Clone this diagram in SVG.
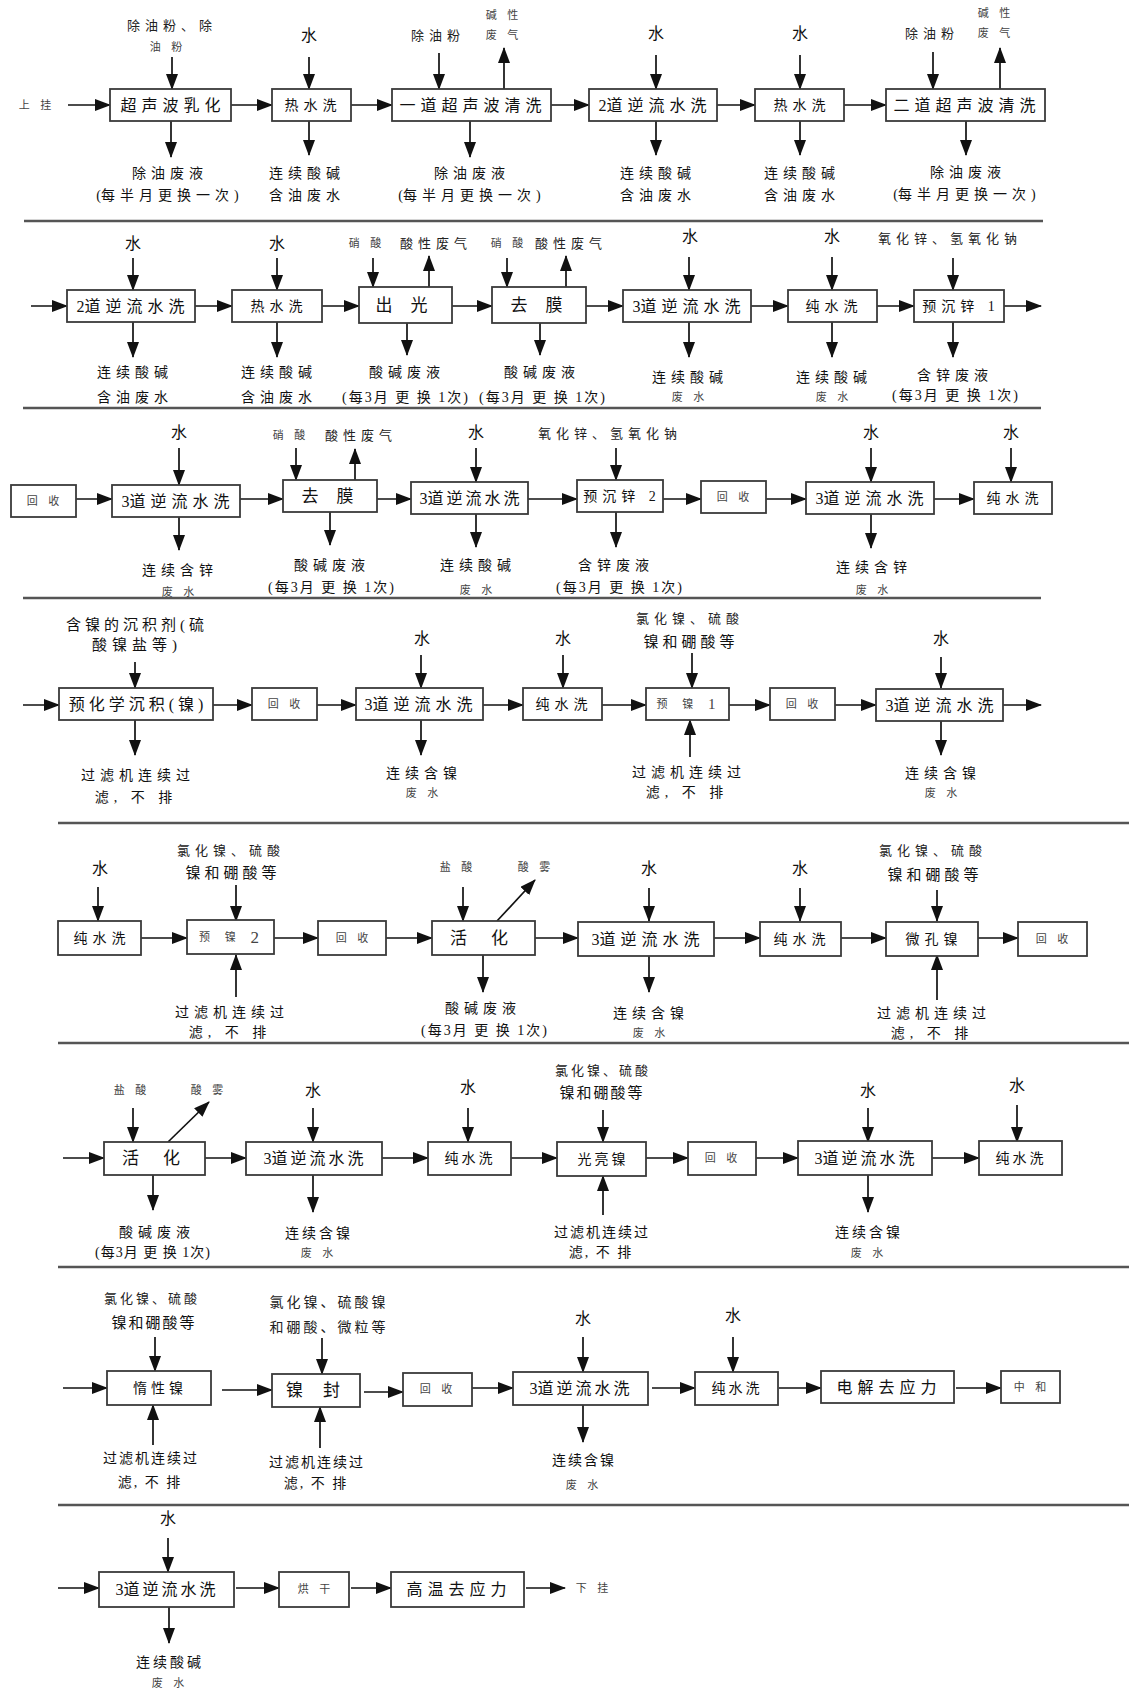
<svg xmlns="http://www.w3.org/2000/svg" width="1129" height="1693" viewBox="0 0 1129 1693">
<style>
text{font-family:"Liberation Serif","Noto Sans CJK SC",serif;fill:#111;text-anchor:middle;dominant-baseline:central}
.b{font-size:16px;letter-spacing:5px}
.m{font-size:14px;letter-spacing:5px}
.l{font-size:14px;letter-spacing:5px}
.t{font-size:13px;letter-spacing:5px;fill:#222}
.s{font-size:11px;letter-spacing:4px;fill:#444}
.w{font-size:16px}
.z{letter-spacing:0}
rect{fill:#fff;stroke:#3a3a3a;stroke-width:1.8}
#conn line{stroke:#111;stroke-width:1.7;marker-end:url(#a)}
#sep line{stroke:#555;stroke-width:2.5}
</style>
<defs>
<marker id="a" markerUnits="userSpaceOnUse" markerWidth="16" markerHeight="12" refX="15" refY="6" orient="auto"><path d="M0,0L16,6L0,12z" fill="#111"/></marker>
</defs>
<rect x="0" y="0" width="1129" height="1693" style="stroke:none;fill:#fff"/>
<g id="sep">
<line x1="24" y1="221" x2="1043" y2="221"/>
<line x1="23" y1="408" x2="1041" y2="408"/>
<line x1="23" y1="598" x2="1041" y2="598"/>
<line x1="58" y1="823" x2="1129" y2="823"/>
<line x1="58" y1="1043" x2="1129" y2="1043"/>
<line x1="58" y1="1267" x2="1129" y2="1267"/>
<line x1="58" y1="1505" x2="1129" y2="1505"/>
</g>
<g id="conn">
<line x1="68" y1="105" x2="110" y2="105"/>
<line x1="231" y1="105" x2="272" y2="105"/>
<line x1="351" y1="105" x2="392" y2="105"/>
<line x1="551" y1="105" x2="589" y2="105"/>
<line x1="717" y1="105" x2="755" y2="105"/>
<line x1="844" y1="105" x2="886" y2="105"/>
<line x1="172" y1="57" x2="172" y2="89"/>
<line x1="309" y1="57" x2="309" y2="89"/>
<line x1="439" y1="53" x2="439" y2="89"/>
<line x1="504" y1="89" x2="504" y2="48"/>
<line x1="656" y1="55" x2="656" y2="89"/>
<line x1="800" y1="55" x2="800" y2="89"/>
<line x1="933" y1="52" x2="933" y2="89"/>
<line x1="1000" y1="89" x2="1000" y2="48"/>
<line x1="171" y1="121" x2="171" y2="157"/>
<line x1="309" y1="121" x2="309" y2="155"/>
<line x1="470" y1="121" x2="470" y2="157"/>
<line x1="656" y1="121" x2="656" y2="155"/>
<line x1="800" y1="121" x2="800" y2="155"/>
<line x1="966" y1="121" x2="966" y2="155"/>
<line x1="31" y1="306" x2="67" y2="306"/>
<line x1="195" y1="306" x2="232" y2="306"/>
<line x1="322" y1="306" x2="359" y2="306"/>
<line x1="452" y1="306" x2="492" y2="306"/>
<line x1="586" y1="306" x2="623" y2="306"/>
<line x1="751" y1="306" x2="788" y2="306"/>
<line x1="877" y1="306" x2="914" y2="306"/>
<line x1="1004" y1="306" x2="1041" y2="306"/>
<line x1="133" y1="258" x2="133" y2="290"/>
<line x1="277" y1="258" x2="277" y2="290"/>
<line x1="373" y1="258" x2="373" y2="287"/>
<line x1="429" y1="287" x2="429" y2="256"/>
<line x1="507" y1="258" x2="507" y2="287"/>
<line x1="566" y1="287" x2="566" y2="256"/>
<line x1="689" y1="257" x2="689" y2="290"/>
<line x1="832" y1="257" x2="832" y2="290"/>
<line x1="953" y1="258" x2="953" y2="290"/>
<line x1="133" y1="322" x2="133" y2="357"/>
<line x1="277" y1="322" x2="277" y2="357"/>
<line x1="407" y1="323" x2="407" y2="355"/>
<line x1="540" y1="323" x2="540" y2="355"/>
<line x1="689" y1="322" x2="689" y2="357"/>
<line x1="832" y1="322" x2="832" y2="357"/>
<line x1="953" y1="322" x2="953" y2="357"/>
<line x1="76" y1="499" x2="112" y2="499"/>
<line x1="240" y1="499" x2="283" y2="499"/>
<line x1="377" y1="499" x2="411" y2="499"/>
<line x1="528" y1="499" x2="577" y2="499"/>
<line x1="663" y1="499" x2="701" y2="499"/>
<line x1="766" y1="499" x2="806" y2="499"/>
<line x1="934" y1="499" x2="974" y2="499"/>
<line x1="179" y1="448" x2="179" y2="485"/>
<line x1="296" y1="448" x2="296" y2="480"/>
<line x1="355" y1="480" x2="355" y2="449"/>
<line x1="476" y1="448" x2="476" y2="482"/>
<line x1="616" y1="448" x2="616" y2="480"/>
<line x1="871" y1="448" x2="871" y2="482"/>
<line x1="1011" y1="448" x2="1011" y2="482"/>
<line x1="179" y1="517" x2="179" y2="550"/>
<line x1="330" y1="512" x2="330" y2="545"/>
<line x1="476" y1="514" x2="476" y2="547"/>
<line x1="616" y1="512" x2="616" y2="547"/>
<line x1="871" y1="514" x2="871" y2="548"/>
<line x1="23" y1="705" x2="59" y2="705"/>
<line x1="213" y1="705" x2="252" y2="705"/>
<line x1="317" y1="705" x2="356" y2="705"/>
<line x1="483" y1="705" x2="523" y2="705"/>
<line x1="602" y1="705" x2="646" y2="705"/>
<line x1="729" y1="705" x2="770" y2="705"/>
<line x1="835" y1="705" x2="876" y2="705"/>
<line x1="1003" y1="705" x2="1041" y2="705"/>
<line x1="135" y1="662" x2="135" y2="688"/>
<line x1="421" y1="655" x2="421" y2="688"/>
<line x1="563" y1="655" x2="563" y2="688"/>
<line x1="692" y1="653" x2="692" y2="688"/>
<line x1="941" y1="657" x2="941" y2="688"/>
<line x1="135" y1="720" x2="135" y2="755"/>
<line x1="421" y1="720" x2="421" y2="755"/>
<line x1="690" y1="757" x2="690" y2="720"/>
<line x1="941" y1="721" x2="941" y2="755"/>
<line x1="141" y1="938" x2="187" y2="938"/>
<line x1="274" y1="938" x2="318" y2="938"/>
<line x1="386" y1="938" x2="432" y2="938"/>
<line x1="535" y1="938" x2="578" y2="938"/>
<line x1="714" y1="938" x2="760" y2="938"/>
<line x1="841" y1="938" x2="886" y2="938"/>
<line x1="978" y1="938" x2="1018" y2="938"/>
<line x1="98" y1="887" x2="98" y2="921"/>
<line x1="236" y1="885" x2="236" y2="921"/>
<line x1="463" y1="887" x2="463" y2="921"/>
<line x1="497" y1="921" x2="535" y2="880"/>
<line x1="649" y1="888" x2="649" y2="921"/>
<line x1="800" y1="888" x2="800" y2="921"/>
<line x1="937" y1="890" x2="937" y2="921"/>
<line x1="236" y1="997" x2="236" y2="955"/>
<line x1="483" y1="955" x2="483" y2="992"/>
<line x1="649" y1="955" x2="649" y2="992"/>
<line x1="937" y1="1000" x2="937" y2="955"/>
<line x1="63" y1="1158" x2="104" y2="1158"/>
<line x1="205" y1="1158" x2="246" y2="1158"/>
<line x1="382" y1="1158" x2="428" y2="1158"/>
<line x1="511" y1="1158" x2="557" y2="1158"/>
<line x1="646" y1="1158" x2="688" y2="1158"/>
<line x1="756" y1="1158" x2="798" y2="1158"/>
<line x1="932" y1="1158" x2="979" y2="1158"/>
<line x1="133" y1="1108" x2="133" y2="1142"/>
<line x1="168" y1="1142" x2="209" y2="1102"/>
<line x1="313" y1="1108" x2="313" y2="1142"/>
<line x1="468" y1="1108" x2="468" y2="1142"/>
<line x1="603" y1="1110" x2="603" y2="1142"/>
<line x1="868" y1="1108" x2="868" y2="1142"/>
<line x1="1017" y1="1105" x2="1017" y2="1142"/>
<line x1="153" y1="1175" x2="153" y2="1210"/>
<line x1="313" y1="1175" x2="313" y2="1212"/>
<line x1="603" y1="1215" x2="603" y2="1176"/>
<line x1="868" y1="1175" x2="868" y2="1212"/>
<line x1="63" y1="1388" x2="107" y2="1388"/>
<line x1="222" y1="1390" x2="272" y2="1390"/>
<line x1="364" y1="1392" x2="403" y2="1392"/>
<line x1="472" y1="1388" x2="513" y2="1388"/>
<line x1="652" y1="1388" x2="695" y2="1388"/>
<line x1="779" y1="1388" x2="821" y2="1388"/>
<line x1="956" y1="1388" x2="1001" y2="1388"/>
<line x1="155" y1="1337" x2="155" y2="1371"/>
<line x1="322" y1="1338" x2="322" y2="1374"/>
<line x1="583" y1="1337" x2="583" y2="1372"/>
<line x1="733" y1="1337" x2="733" y2="1372"/>
<line x1="153" y1="1445" x2="153" y2="1405"/>
<line x1="320" y1="1448" x2="320" y2="1407"/>
<line x1="583" y1="1405" x2="583" y2="1442"/>
<line x1="58" y1="1588" x2="99" y2="1588"/>
<line x1="236" y1="1588" x2="279" y2="1588"/>
<line x1="351" y1="1588" x2="391" y2="1588"/>
<line x1="526" y1="1588" x2="565" y2="1588"/>
<line x1="168" y1="1538" x2="168" y2="1572"/>
<line x1="169" y1="1607" x2="169" y2="1643"/>
</g>

<text class="s" x="37" y="105">上 挂</text>
<g id="r1n1"><rect x="110" y="89" width="121" height="32"/><text class="b" x="173" y="105">超声波乳化</text>
<text class="t" x="172" y="25">除油粉、除</text><text class="s" x="168" y="47">油 粉</text>
<text class="l" x="170" y="173">除油废液</text><text class="l" x="170" y="195"><tspan class="z">(</tspan>每半月更换一次)</text></g>
<g id="r1n2"><rect x="272" y="89" width="79" height="32"/><text class="m" x="313" y="105">热水洗</text>
<text class="w" x="309" y="35">水</text>
<text class="l" x="307" y="173">连续酸碱</text><text class="l" x="307" y="195">含油废水</text></g>
<g id="r1n3"><rect x="392" y="89" width="159" height="32"/><text class="b" x="473" y="105">一道超声波清洗</text>
<text class="t" x="438" y="35">除油粉</text><text class="s" x="504" y="15">碱 性</text><text class="s" x="504" y="35">废 气</text>
<text class="l" x="472" y="173">除油废液</text><text class="l" x="472" y="195"><tspan class="z">(</tspan>每半月更换一次)</text></g>
<g id="r1n4"><rect x="589" y="89" width="128" height="32"/><text class="b" x="655" y="105"><tspan class="z">2</tspan>道逆流水洗</text>
<text class="w" x="656" y="33">水</text>
<text class="l" x="658" y="173">连续酸碱</text><text class="l" x="658" y="195">含油废水</text></g>
<g id="r1n5"><rect x="755" y="89" width="89" height="32"/><text class="m" x="802" y="105">热水洗</text>
<text class="w" x="800" y="33">水</text>
<text class="l" x="802" y="173">连续酸碱</text><text class="l" x="802" y="195">含油废水</text></g>
<g id="r1n6"><rect x="886" y="89" width="159" height="32"/><text class="b" x="967" y="105">二道超声波清洗</text>
<text class="t" x="932" y="33">除油粉</text><text class="s" x="996" y="13">碱 性</text><text class="s" x="996" y="33">废 气</text>
<text class="l" x="968" y="172">除油废液</text><text class="l" x="967" y="194"><tspan class="z">(</tspan>每半月更换一次)</text></g>

<g id="r2n1"><rect x="67" y="290" width="128" height="32"/><text class="b" x="133" y="306"><tspan class="z">2</tspan>道逆流水洗</text>
<text class="w" x="133" y="243">水</text>
<text class="l" x="135" y="372">连续酸碱</text><text class="l" x="135" y="397">含油废水</text></g>
<g id="r2n2"><rect x="232" y="290" width="90" height="32"/><text class="m" x="279" y="306">热水洗</text>
<text class="w" x="277" y="243">水</text>
<text class="l" x="279" y="372">连续酸碱</text><text class="l" x="279" y="397">含油废水</text></g>
<g id="r2n3"><rect x="359" y="287" width="93" height="36"/><text class="b" x="405" y="305" style="font-size:17px;letter-spacing:7px">出 光</text>
<text class="s" x="367" y="243">硝 酸</text><text class="t" x="436" y="243">酸性废气</text>
<text class="l" x="407" y="372">酸碱废液</text><text class="l" x="406" y="397" style="letter-spacing:2px">(每3月 更 换 1次)</text></g>
<g id="r2n4"><rect x="492" y="287" width="94" height="36"/><text class="b" x="540" y="305" style="font-size:17px;letter-spacing:7px">去 膜</text>
<text class="s" x="509" y="243">硝 酸</text><text class="t" x="571" y="243">酸性废气</text>
<text class="l" x="542" y="372">酸碱废液</text><text class="l" x="543" y="397" style="letter-spacing:2px">(每3月 更 换 1次)</text></g>
<g id="r2n5"><rect x="623" y="290" width="128" height="32"/><text class="b" x="689" y="306"><tspan class="z">3</tspan>道逆流水洗</text>
<text class="w" x="690" y="236">水</text>
<text class="l" x="690" y="377">连续酸碱</text><text class="s" x="690" y="397">废 水</text></g>
<g id="r2n6"><rect x="788" y="290" width="89" height="32"/><text class="m" x="834" y="306">纯水洗</text>
<text class="w" x="832" y="236">水</text>
<text class="l" x="834" y="377">连续酸碱</text><text class="s" x="834" y="397">废 水</text></g>
<g id="r2n7"><rect x="914" y="290" width="90" height="32"/><text class="m" x="961" y="306">预沉锌 1</text>
<text class="t" x="950" y="238">氧化锌、氢氧化钠</text>
<text class="l" x="955" y="375">含锌废液</text><text class="l" x="956" y="395" style="letter-spacing:2px">(每3月 更 换 1次)</text></g>

<g id="r3n1"><rect x="11" y="485" width="65" height="32"/><text class="s" x="45" y="501">回 收</text></g>
<g id="r3n2"><rect x="112" y="485" width="128" height="32"/><text class="b" x="178" y="501"><tspan class="z">3</tspan>道逆流水洗</text>
<text class="w" x="179" y="432">水</text>
<text class="l" x="180" y="570">连续含锌</text><text class="s" x="180" y="592">废 水</text></g>
<g id="r3n3"><rect x="283" y="480" width="94" height="32"/><text class="b" x="331" y="496" style="font-size:17px;letter-spacing:7px">去 膜</text>
<text class="s" x="291" y="435">硝 酸</text><text class="t" x="361" y="435">酸性废气</text>
<text class="l" x="332" y="565">酸碱废液</text><text class="l" x="332" y="587" style="letter-spacing:2px">(每3月 更 换 1次)</text></g>
<g id="r3n4"><rect x="411" y="482" width="117" height="32"/><text class="b" x="471" y="498" style="letter-spacing:3px"><tspan class="z">3</tspan>道逆流水洗</text>
<text class="w" x="476" y="432">水</text>
<text class="l" x="478" y="565">连续酸碱</text><text class="s" x="478" y="590">废 水</text></g>
<g id="r3n5"><rect x="577" y="480" width="86" height="32"/><text class="m" x="622" y="496">预沉锌 2</text>
<text class="t" x="610" y="433">氧化锌、氢氧化钠</text>
<text class="l" x="616" y="565">含锌废液</text><text class="l" x="620" y="587" style="letter-spacing:2px">(每3月 更 换 1次)</text></g>
<g id="r3n6"><rect x="701" y="481" width="65" height="32"/><text class="s" x="735" y="497">回 收</text></g>
<g id="r3n7"><rect x="806" y="482" width="128" height="32"/><text class="b" x="872" y="498"><tspan class="z">3</tspan>道逆流水洗</text>
<text class="w" x="871" y="432">水</text>
<text class="l" x="874" y="567">连续含锌</text><text class="s" x="874" y="590">废 水</text></g>
<g id="r3n8"><rect x="974" y="482" width="78" height="32"/><text class="m" x="1015" y="498">纯水洗</text>
<text class="w" x="1011" y="432">水</text></g>

<g id="r4n1"><rect x="59" y="688" width="154" height="32"/><text class="b" x="138" y="704" style="letter-spacing:4px">预化学沉积(镍)</text>
<text class="l" x="137" y="625" style="font-size:15px;letter-spacing:4px">含镍的沉积剂(硫</text><text class="l" x="137" y="645" style="font-size:15px">酸镍盐等)</text>
<text class="l" x="138" y="775">过滤机连续过</text><text class="l" x="136" y="797">滤, 不 排</text></g>
<g id="r4n2"><rect x="252" y="688" width="65" height="32"/><text class="s" x="286" y="704">回 收</text></g>
<g id="r4n3"><rect x="356" y="688" width="127" height="32"/><text class="b" x="421" y="704"><tspan class="z">3</tspan>道逆流水洗</text>
<text class="w" x="422" y="638">水</text>
<text class="l" x="424" y="773">连续含镍</text><text class="s" x="424" y="793">废 水</text></g>
<g id="r4n4"><rect x="523" y="688" width="79" height="32"/><text class="m" x="564" y="704">纯水洗</text>
<text class="w" x="563" y="638">水</text></g>
<g id="r4n5"><rect x="646" y="688" width="83" height="32"/><text class="s" x="689" y="704" style="letter-spacing:6px">预 镍 <tspan style="font-size:15px">1</tspan></text>
<text class="t" x="690" y="618">氯化镍、硫酸</text><text class="b" x="691" y="642" style="font-size:15px;letter-spacing:4px">镍和硼酸等</text>
<text class="l" x="689" y="772">过滤机连续过</text><text class="l" x="687" y="792">滤, 不 排</text></g>
<g id="r4n6"><rect x="770" y="688" width="65" height="32"/><text class="s" x="804" y="704">回 收</text></g>
<g id="r4n7"><rect x="876" y="689" width="127" height="32"/><text class="b" x="942" y="705"><tspan class="z">3</tspan>道逆流水洗</text>
<text class="w" x="941" y="638">水</text>
<text class="l" x="943" y="773">连续含镍</text><text class="s" x="943" y="793">废 水</text></g>

<g id="r5n1"><rect x="58" y="921" width="83" height="34"/><text class="m" x="102" y="938">纯水洗</text>
<text class="w" x="100" y="868">水</text></g>
<g id="r5n2"><rect x="187" y="920" width="87" height="34"/><text class="s" x="232" y="937" style="letter-spacing:6px">预 镍 <tspan style="font-size:17px">2</tspan></text>
<text class="t" x="231" y="850">氯化镍、硫酸</text><text class="b" x="233" y="873" style="font-size:15px;letter-spacing:4px">镍和硼酸等</text>
<text class="l" x="232" y="1012">过滤机连续过</text><text class="l" x="230" y="1032">滤, 不 排</text></g>
<g id="r5n3"><rect x="318" y="921" width="68" height="34"/><text class="s" x="354" y="938">回 收</text></g>
<g id="r5n4"><rect x="432" y="921" width="103" height="34"/><text class="b" x="484" y="938" style="font-size:17px;letter-spacing:10px">活 化</text>
<text class="s" x="458" y="867">盐 酸</text><text class="s" x="536" y="867">酸 雾</text>
<text class="l" x="483" y="1008">酸碱废液</text><text class="l" x="485" y="1030" style="letter-spacing:2px">(每3月 更 换 1次)</text></g>
<g id="r5n5"><rect x="578" y="922" width="136" height="34"/><text class="b" x="648" y="939"><tspan class="z">3</tspan>道逆流水洗</text>
<text class="w" x="649" y="868">水</text>
<text class="l" x="651" y="1013">连续含镍</text><text class="s" x="651" y="1033">废 水</text></g>
<g id="r5n6"><rect x="760" y="922" width="81" height="34"/><text class="m" x="802" y="939">纯水洗</text>
<text class="w" x="800" y="868">水</text></g>
<g id="r5n7"><rect x="886" y="922" width="92" height="34"/><text class="m" x="934" y="939">微孔镍</text>
<text class="t" x="933" y="850">氯化镍、硫酸</text><text class="b" x="935" y="875" style="font-size:15px;letter-spacing:4px">镍和硼酸等</text>
<text class="l" x="934" y="1013">过滤机连续过</text><text class="l" x="932" y="1033">滤, 不 排</text></g>
<g id="r5n8"><rect x="1018" y="922" width="69" height="34"/><text class="s" x="1054" y="939">回 收</text></g>

<g id="r6n1"><rect x="104" y="1142" width="101" height="33"/><text class="b" x="156" y="1158" style="font-size:17px;letter-spacing:10px">活 化</text>
<text class="s" x="132" y="1090">盐 酸</text><text class="s" x="209" y="1090">酸 雾</text>
<text class="l" x="157" y="1232">酸碱废液</text><text class="l" x="153" y="1252" style="letter-spacing:1px">(每3月 更 换 1次)</text></g>
<g id="r6n2"><rect x="246" y="1142" width="136" height="33"/><text class="b" x="315" y="1158" style="letter-spacing:3px"><tspan class="z">3</tspan>道逆流水洗</text>
<text class="w" x="313" y="1090">水</text>
<text class="l" x="319" y="1233" style="letter-spacing:3px">连续含镍</text><text class="s" x="319" y="1253">废 水</text></g>
<g id="r6n3"><rect x="428" y="1142" width="83" height="33"/><text class="m" x="470" y="1158" style="letter-spacing:3px">纯水洗</text>
<text class="w" x="468" y="1087">水</text></g>
<g id="r6n4"><rect x="557" y="1142" width="89" height="34"/><text class="m" x="603" y="1159" style="letter-spacing:3px">光亮镍</text>
<text class="t" x="603" y="1070" style="letter-spacing:3px">氯化镍、硫酸</text><text class="b" x="602" y="1093" style="font-size:15px;letter-spacing:2px">镍和硼酸等</text>
<text class="l" x="602" y="1232" style="letter-spacing:2px">过滤机连续过</text><text class="l" x="601" y="1252" style="letter-spacing:2px">滤, 不 排</text></g>
<g id="r6n5"><rect x="688" y="1142" width="68" height="33"/><text class="s" x="723" y="1158">回 收</text></g>
<g id="r6n6"><rect x="798" y="1141" width="134" height="34"/><text class="b" x="866" y="1158" style="letter-spacing:3px"><tspan class="z">3</tspan>道逆流水洗</text>
<text class="w" x="868" y="1090">水</text>
<text class="l" x="869" y="1232" style="letter-spacing:3px">连续含镍</text><text class="s" x="869" y="1253">废 水</text></g>
<g id="r6n7"><rect x="979" y="1141" width="83" height="34"/><text class="m" x="1021" y="1158" style="letter-spacing:3px">纯水洗</text>
<text class="w" x="1017" y="1085">水</text></g>

<g id="r7n1"><rect x="107" y="1371" width="104" height="34"/><text class="m" x="160" y="1388" style="letter-spacing:4px">惰性镍</text>
<text class="t" x="152" y="1298" style="letter-spacing:3px">氯化镍、硫酸</text><text class="b" x="154" y="1323" style="font-size:15px;letter-spacing:2px">镍和硼酸等</text>
<text class="l" x="151" y="1458" style="letter-spacing:2px">过滤机连续过</text><text class="l" x="150" y="1482" style="letter-spacing:2px">滤, 不 排</text></g>
<g id="r7n2"><rect x="272" y="1374" width="88" height="33"/><text class="b" x="317" y="1390" style="font-size:17px;letter-spacing:8px">镍 封</text>
<text class="t" x="329" y="1302" style="font-size:14px;letter-spacing:3px">氯化镍、硫酸镍</text><text class="t" x="329" y="1327" style="font-size:14px;letter-spacing:3px">和硼酸、微粒等</text>
<text class="l" x="317" y="1462" style="letter-spacing:2px">过滤机连续过</text><text class="l" x="316" y="1483" style="letter-spacing:2px">滤, 不 排</text></g>
<g id="r7n3"><rect x="403" y="1373" width="69" height="33"/><text class="s" x="438" y="1389">回 收</text></g>
<g id="r7n4"><rect x="513" y="1372" width="135" height="33"/><text class="b" x="581" y="1388" style="letter-spacing:3px"><tspan class="z">3</tspan>道逆流水洗</text>
<text class="w" x="583" y="1318">水</text>
<text class="l" x="584" y="1460" style="letter-spacing:2px">连续含镍</text><text class="s" x="584" y="1485">废 水</text></g>
<g id="r7n5"><rect x="695" y="1372" width="83" height="33"/><text class="m" x="737" y="1388" style="letter-spacing:3px">纯水洗</text>
<text class="w" x="733" y="1315">水</text></g>
<g id="r7n6"><rect x="821" y="1371" width="133" height="32"/><text class="b" x="889" y="1387">电解去应力</text></g>
<g id="r7n7"><rect x="1001" y="1371" width="59" height="32"/><text class="s" x="1032" y="1387">中 和</text></g>

<g id="r8n1"><rect x="99" y="1572" width="135" height="35"/><text class="b" x="167" y="1589" style="letter-spacing:3px"><tspan class="z">3</tspan>道逆流水洗</text>
<text class="w" x="168" y="1518">水</text>
<text class="l" x="170" y="1662" style="letter-spacing:3px">连续酸碱</text><text class="s" x="170" y="1683">废 水</text></g>
<g id="r8n2"><rect x="279" y="1572" width="70" height="35"/><text class="s" x="316" y="1589">烘 干</text></g>
<g id="r8n3"><rect x="391" y="1572" width="133" height="35"/><text class="b" x="459" y="1589">高温去应力</text></g>
<text class="s" x="594" y="1588">下 挂</text>
</svg>
